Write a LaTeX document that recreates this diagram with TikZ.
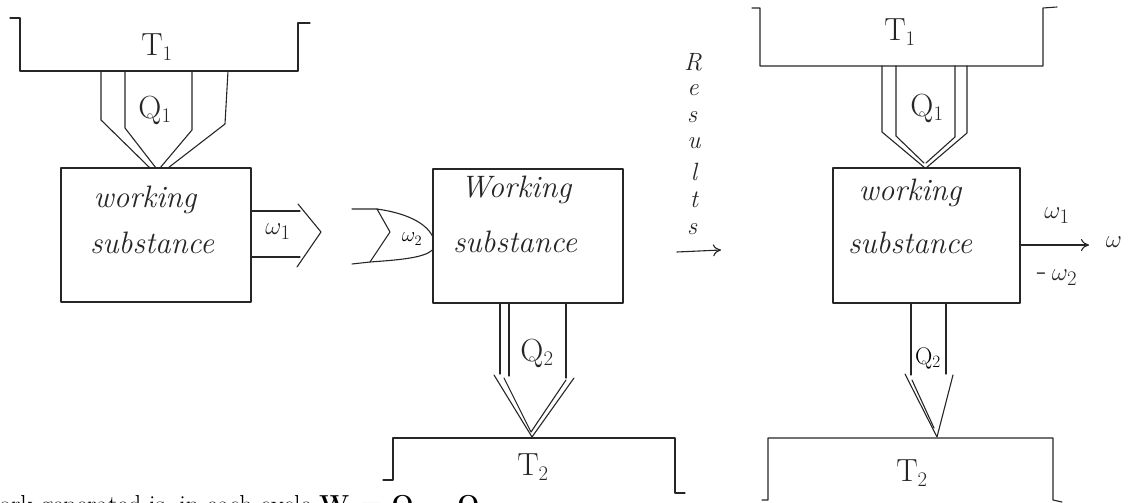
\documentclass[tikz,border=0pt]{standalone}
\usepackage{fontspec}
\usetikzlibrary{arrows.meta}
\begin{document}
\begin{tikzpicture}[x=1pt,y=-1pt,
  ink/.style={line width=1.1pt, line join=round, line cap=round, draw=black!85},
  wsbox/.style={ink, inner sep=0pt},
  hand/.style={font=\fontsize{31}{34}\selectfont\itshape, inner sep=0pt, text=black!85},
  lbl/.style={font=\fontsize{32}{36}\selectfont, inner sep=0pt, text=black!85},
  small/.style={font=\fontsize{32}{34}\selectfont, inner sep=0pt, text=black!85},
  letter/.style={font=\fontsize{25}{26}\selectfont\itshape, inner sep=0pt, text=black!85},
  print/.style={font=\fontsize{26}{30}\selectfont, inner sep=0pt, anchor=base west},
  tip/.style={-{To[length=8pt,width=12pt]}}]
\useasboundingbox (0,0) rectangle (1133,503);
\clip (0,0) rectangle (1133,503);

% ---------- engine: heat in, work out ----------
\node[wsbox, draw, minimum width=190pt, minimum height=134pt] (wsA) at (156,235) {};
\node[hand] (wsAa) at (145,200) {working};
\node[hand] (wsAb) at (152,243) {substance};
\draw[ink] (10,18) -- (20,18) -- (20,71) -- (298,71) -- (298,23) -- (310,23);
\node[lbl] (tA) at (157,47) {T$_1$};
% double-walled Q1 arrow
\draw[ink] (101,71) -- (101,120) -- (150,168);
\draw[ink] (228,71) -- (225,124) -- (168,168);
\draw[ink] (125,71) -- (125,128) -- (156,168);
\draw[ink] (192,71) -- (192,130) -- (160,168);
\node[lbl] (qA) at (155,110) {Q$_1$};
% W1 out
\draw[ink] (wsA.east |- 0,211) -- (300,211);
\draw[ink] (wsA.east |- 0,257) -- (300,257);
\draw[ink] (298,204) -- (321,232) -- (297,267);
\node[small] (wA) at (278,232) {$\omega_1$};

% ---------- refrigerator: work in, heat out ----------
\node[wsbox, draw, minimum width=190pt, minimum height=134pt] (wsB) at (528,236) {};
\node[hand] (wsBa) at (516,190) {Working};
\node[hand] (wsBb) at (515,242) {substance};
% W2 in
\draw[ink] (352,209) -- (377,209) -- (390,232) -- (370,262) -- (352,264);
\draw[ink] (377,209) .. controls (405,213) and (425,222) .. (wsB.west |- 0,236);
\draw[ink] (370,262) .. controls (398,260) and (424,258) .. (wsB.west |- 0,250);
\node[font=\fontsize{22}{24}\selectfont, inner sep=0pt] (wB) at (412,239) {$\omega_2$};
% Q2 out
\draw[ink] (500,303) -- (500,374);
\draw[ink] (509,303) -- (509,376);
\draw[ink] (566,303) -- (566,378);
\draw[ink] (494,375) -- (532,437) -- (574,378);
\draw[ink] (504,378) -- (531,432) -- (566,380);
\node[lbl] (qB) at (537,353) {Q$_2$};
\draw[ink] (383,480) -- (393,480) -- (393,438) -- (675,438) -- (675,493) -- (685,493);
\node[lbl] (tB) at (533,467) {T$_2$};

% ---------- "Results" arrow ----------
\node[letter] (r1) at (693,62) {R};
\node[letter] (r2) at (693,90) {e};
\node[letter] (r3) at (692,117) {s};
\node[letter] (r4) at (694,143) {u};
\node[letter] (r5) at (694,172) {l};
\node[letter] (r6) at (694,200) {t};
\node[letter] (r7) at (692,229) {s};
\coordinate (ra) at (677,252);
\coordinate (rb) at (721,250);
\draw[ink, tip] (ra) -- (rb);

% ---------- combined engine ----------
\node[wsbox, draw, minimum width=187pt, minimum height=135pt] (wsC) at (926.5,235.5) {};
\node[hand] (wsCa) at (910,193) {working};
\node[hand] (wsCb) at (910,243) {substance};
\draw[ink] (752,8) -- (760,8) -- (760,66) -- (1043,66) -- (1043,8) -- (1057,7);
\node[lbl] (tC) at (900,32) {T$_1$};
\draw[ink] (882,66) -- (882,132) -- (925,168);
\draw[ink] (896,66) -- (896,136) -- (924,163);
\draw[ink] (967,66) -- (967,133) -- (926,168);
\draw[ink] (955,66) -- (955,137) -- (926,163);
\node[lbl] (qC) at (927,108) {Q$_1$};
\coordinate (wout) at (1089,245);
\draw[ink, tip] (wsC.east |- wout) -- (wout);
\node[small] (wC1) at (1057,216) {$\omega_1$};
\node[small] (wC) at (1114,242) {$\omega$};
\node[small] (wC2) at (1057,278) {-\,$\omega_2$};
\draw[ink] (911,303) -- (911,375);
\draw[ink] (946,303) -- (946,374);
\draw[ink] (905,374) -- (937,437) -- (953,375);
\draw[ink] (912,380) -- (934,428);
\node[font=\fontsize{24}{26}\selectfont, inner sep=0pt] (qD) at (928,358) {Q$_2$};
\draw[ink] (762,500) -- (768,500) -- (768,438) -- (1053,438) -- (1053,500) -- (1062,502);
\node[lbl] (tD) at (912,473) {T$_2$};

% ---------- running text ----------
\node[print] (txt) at (-1,513) {ork generated is, in each cycle \textbf{W = Q$_{\mathbf 1}$ -- Q$_{\mathbf 2}$}};
\end{tikzpicture}
\end{document}
